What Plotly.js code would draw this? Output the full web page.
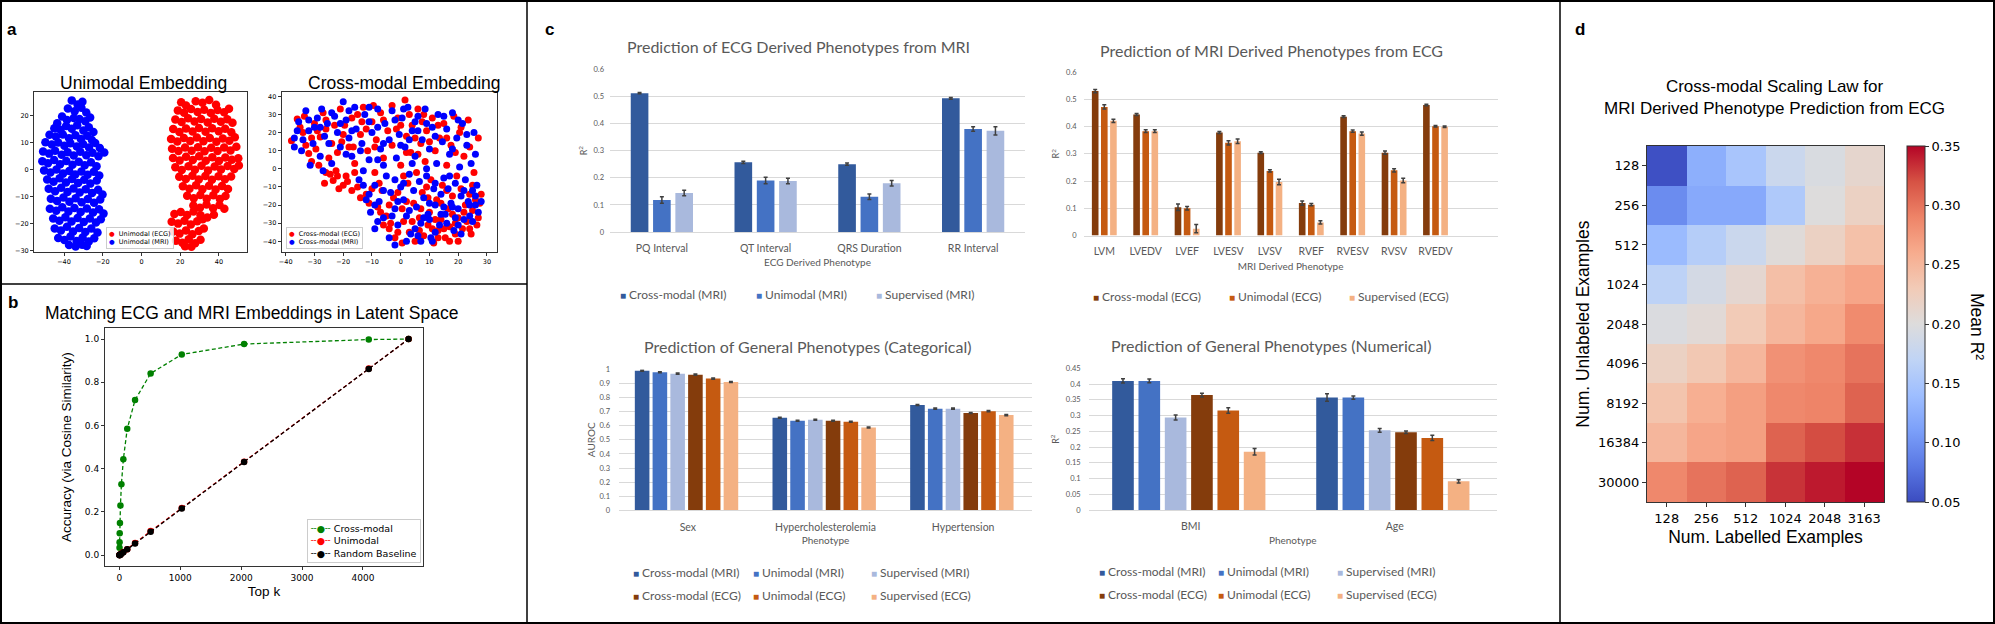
<!DOCTYPE html>
<html><head><meta charset="utf-8">
<script src="https://cdn.plot.ly/plotly-3.0.1.min.js"></script>
<style>html,body{margin:0;padding:0;background:#fff}#fig{width:1995px;height:624px}</style>
</head><body><div id="fig"></div><script>
// ---------------- DATA ----------------
// Panel a: t-SNE embeddings (approximate positions)
const uniMriPts = [[-36,25.5],[-33,24],[-30.5,25],[-38,22.5],[-34.5,21.5],[-31,22.8],[-28.5,21],
[-41,19.5],[-38.5,18.2],[-35,19],[-32,18.6],[-29,17.8],[-26.5,19.2],[-43.5,17],
[-45,15.2],[-41.8,14.6],[-38.9,16],[-36,15],[-33.2,16.3],[-30,14.4],[-27.2,15.6],[-24.8,13.8],
[-47.5,12.8],[-44.2,12.1],[-40.6,12.9],[-37.4,11.5],[-34.1,12.6],[-31.3,11.2],[-28,12.4],[-25.6,10.8],
[-49.6,10],[-46.3,9.2],[-43,9.9],[-39.8,8.7],[-36.7,9.6],[-33.4,8.4],[-30.2,9.4],[-27.1,8.1],[-23.9,9.7],[-21.5,7.9],
[-50.8,6.6],[-47.7,5.8],[-44.6,6.9],[-41.2,5.4],[-38.1,6.3],[-35,5.1],[-31.6,6.5],[-28.5,5.2],[-25.3,6.1],[-22.2,4.8],[-19.2,6.2],
[-51.2,3],[-48.3,2.2],[-45.1,3.4],[-42,1.9],[-38.8,3.1],[-35.6,1.7],[-32.4,2.8],[-29.3,1.5],[-26.1,2.6],[-23.2,1.1],
[-50.3,-0.4],[-47,-1.2],[-43.9,-0.1],[-40.5,-1.6],[-37.3,-0.6],[-34.2,-1.9],[-31,-0.8],[-27.8,-2],[-24.6,-0.9],[-21.8,-2.3],
[-48.7,-3.8],[-45.4,-4.6],[-42.3,-3.3],[-39,-4.9],[-35.9,-3.6],[-32.7,-5.1],[-29.6,-3.9],[-26.4,-5.3],[-23.1,-4.1],
[-47.9,-7.2],[-44.6,-8.1],[-41.5,-6.8],[-38.2,-8.4],[-35.1,-7.1],[-31.9,-8.6],[-28.8,-7.4],[-25.5,-8.8],[-22.4,-7.6],[-20.1,-9.3],
[-46.8,-10.9],[-43.6,-11.7],[-40.3,-10.4],[-37.2,-12],[-34,-10.7],[-30.9,-12.2],[-27.7,-11],[-24.5,-12.4],[-21.3,-11.2],
[-47.3,-14.6],[-44,-15.3],[-40.9,-14],[-37.7,-15.6],[-34.6,-14.3],[-31.4,-15.8],[-28.2,-14.5],[-25,-16],[-21.9,-14.8],[-19.6,-16.4],
[-45.6,-18.2],[-42.4,-19],[-39.3,-17.7],[-36.1,-19.3],[-33,-18],[-29.8,-19.5],[-26.7,-18.2],[-23.5,-19.7],[-21,-18.5],
[-44.8,-21.9],[-41.6,-22.6],[-38.5,-21.3],[-35.3,-23],[-32.2,-21.7],[-29,-23.2],[-25.9,-21.9],[-22.7,-23.4],
[-43,-25.4],[-39.8,-26.2],[-36.7,-24.9],[-33.5,-26.5],[-30.4,-25.2],[-27.2,-26.7],[-24.4,-25.5],
[-37.4,-28],[-34,-28.6],[-30.6,-27.9],[-28.3,-28.4]];

const uniEcgPts = [[20.5,24.8],[23,23.6],[28,25.2],[31.5,24.6],[35,25.6],[38.5,23.9],
[18.8,21.8],[22,20.9],[25.6,22.3],[29,21.2],[32.4,22],[35.8,20.8],[39.3,21.9],[42.7,21.1],[45.2,22.4],
[17.5,18.4],[20.7,17.5],[24.1,18.9],[27.4,17.7],[30.8,18.6],[34.2,17.3],[37.6,18.7],[41,17.6],[44.3,18.5],[47,17.2],
[16.4,14.9],[19.6,13.8],[23,15.1],[26.4,14],[29.7,15.3],[33.1,13.9],[36.5,15.2],[39.9,14.1],[43.2,15],[46.4,13.7],
[15.3,11.2],[18.5,10.3],[21.9,11.6],[25.2,10.5],[28.6,11.8],[32,10.4],[35.3,11.6],[38.7,10.2],[42,11.4],[45.4,10.6],[48.2,11.9],
[15.8,7.6],[19.1,6.8],[22.5,8.1],[25.9,6.9],[29.2,8.2],[32.6,6.7],[36,8],[39.3,6.8],[42.7,8.1],[46,7],[49,8.3],
[16.3,4.2],[19.7,3.3],[23,4.6],[26.5,3.4],[29.8,4.8],[33.2,3.2],[36.6,4.5],[40,3.1],[43.3,4.4],[46.7,3.5],[50,4.1],
[17.5,0.8],[20.8,-0.3],[24.3,1.1],[27.6,-0.2],[31,1.3],[34.4,-0.4],[37.8,1],[41.1,-0.1],[44.5,1.2],[47.9,0.1],[50.3,1.4],
[19.5,-2.8],[22.9,-3.6],[26.3,-2.4],[29.6,-3.8],[33,-2.5],[36.4,-3.9],[39.8,-2.6],[43.1,-3.7],[46.3,-2.7],
[21.4,-6.3],[24.8,-7.2],[28.2,-5.9],[31.5,-7.4],[34.9,-6.1],[38.3,-7.5],[41.6,-6.2],[44.7,-7.3],
[23.6,-9.8],[27,-10.7],[30.4,-9.5],[33.7,-10.9],[37.1,-9.6],[40.5,-11],[43.4,-9.9],
[26.8,-13.4],[30.2,-14.2],[33.6,-13],[37,-14.4],[40.3,-13.2],[42.8,-14.6],
[30.5,-17],[34,-17.8],[37.4,-16.8],
[17,-16.5],[20.3,-15.8],[23.6,-16.9],[26.9,-15.6],[15.6,-19.4],[18.9,-20.1],[22.2,-19],[25.5,-20.4],[28.8,-19.2],[31.6,-18.5],
[16.4,-23],[19.7,-23.8],[23,-22.6],[26.3,-24],[29.6,-22.8],[32.2,-21.9],[17.8,-26.4],[21.1,-27.2],[24.4,-25.9],[27.7,-27.4],[30.5,-26.1],[22.5,-28.5],[25.8,-28.7]];

const crossEcgPts = [[-38,15.5],[-36,27.5],[-34,20],[-33,13],[-32,8.5],[-31,4],[-30,25],[-29.5,11],[-28,17.5],[-27,31],
[-26,22],[-25,6],[-24.5,-3],[-23.5,-6.5],[-22.5,-1],[-22,9],[-21,33],[-20.5,15],[-19.5,24],[-18.5,-7],
[-17,28],[-16,3],[-15,-10],[-14,19],[-13,34],[-12,-14],[-11.5,10],[-11,-19],[-10,26],[-9,-2],
[-8.5,16],[-8,-21],[-7,31],[-6.5,-12],[-6,6],[-5,-26],[-4.5,21],[-4,-33],[-3,13],[-2.5,-16],
[-2,-38],[-1,28],[0,2],[0.5,-22],[1,-29],[1.5,38],[2,18],[2.5,-8],[3,-35],[3.5,9],
[4,24],[4.5,-19],[5,-40],[5.5,-2],[6,33],[6.5,-27],[7,14],[7.5,-13],[8,-37],[8.5,4],
[9,21],[9.5,-31],[10,-24],[10.5,-6],[11,28],[11.5,-41],[12,10],[12.5,-17],[13,-34],[13.5,17],
[14,-28],[14.5,-9],[15,25],[15.5,-38],[16,2],[16.5,-22],[17,-32],[17.5,13],[18,-15],[18.5,29],
[19,-36],[19.5,-4],[20,-27],[20.5,20],[21,-11],[21.5,-33],[22,7],[22.5,-20],[23,-29],[23.5,27],
[24,-14],[24.5,-36],[25,-23],[25.5,-2],[26,-17],[26.5,-31],[27,17],[27.5,-19],[28,-14],[-19,-4],
[-26.5,-8],[-21.5,-11],[-28.5,2],[-33.5,29],[-24,14],[-16.5,12],[-13.5,26],[-9.5,35],[-7.5,-8],[-3.5,-30],
[0.5,-41],[6.5,-34],[9.5,-16],[12,-28],[15,-33],[18,-25],[20,-40],[3,30],[-1.5,22],[7.5,26],
[-35,23],[-31,17],[-29,21],[-26,27],[-23,24],[-20,19],[-18,12],[-15,30],[-12,22],[-9,12],
[-6,27],[-3,35],[0,24],[2,9],[5,17],[8,30],[10,15],[13,24],[16,17],[19,9],
[21,23],[24,12],[-22,-4],[-26,-2],[-20,-9],[-17,-12],[-14,-16],[-10,-11],[-7,-24],[-4,-20],
[-1,-13],[2,-18],[4,-29],[7,-22],[9,-10],[11,-33],[14,-19],[16,-12],[19,-30],[22,-24],
[25,-9],[27,-27],[24,-33],[17,-40],[13,-38],[-1,-35],[-6,-31],[1,-4],[6,8],[-16,-2]];

const crossMriPts = [[-37,17],[-35.5,26],[-34.5,10],[-33,32],[-32,21],[-31.5,2],[-30.5,14],[-29,28],[-28,7],[-27.5,33],
[-26.5,18],[-25.5,25],[-24,3],[-23,29],[-22,20],[-21,12],[-20,37],[-19,27],[-18,17],[-17,7],
[-16,34],[-15.5,22],[-14.5,-6],[-13.5,14],[-12.5,30],[-12,-17],[-11,5],[-10.5,-24],[-10,20],[-9,-9],
[-8,33],[-7.5,-18],[-7,11],[-6,-27],[-5.5,25],[-5,-4],[-4,16],[-3.5,-13],[-3,32],[-2,-22],
[-1.5,6],[-1,-31],[-0.5,19],[0,-10],[0.5,28],[1,-17],[1.5,12],[2,-26],[2.5,34],[3,-3],
[3.5,-36],[4,21],[4.5,-12],[5,7],[5.5,-21],[6,29],[6.5,-7],[7,-30],[7.5,16],[8,-16],
[8.5,33],[9,-4],[9.5,-25],[10,11],[10.5,-38],[11,23],[11.5,-11],[12,-20],[12.5,3],[13,30],
[13.5,-31],[14,-14],[14.5,15],[15,-5],[15.5,-25],[16,22],[16.5,-11],[17,8],[17.5,-19],[18,31],
[18.5,-34],[19,-8],[19.5,17],[20,-22],[20.5,1],[21,-15],[21.5,25],[22,-28],[22.5,-6],[23,13],
[23.5,-18],[24,-26],[24.5,3],[25,-12],[25.5,20],[26,-20],[26.5,-9],[27,-24],[25,-29],[21,-36],
[-9,-33],[-8,-29],[-4,-38],[2,-40],[7,-40],[12,-35],[16,-30],[-27,-1],[-30,23],[-36,21],
[-18,32],[-11,26],[-6,2],[0,13],[5,26],[10,-28],[15,-21],[19,-27],[-13,-1],[-2,-6],
[-37,12],[-34,16],[-32,27],[-28,23],[-25,14],[-24,31],[-21,25],[-19,8],[-17,21],[-14,10],
[-11,34],[-8,23],[-6,14],[-2,27],[1,33],[3,16],[6,21],[9,25],[12,18],[15,29],
[18,11],[20,27],[23,19],[26,8],[-13,-9],[-11,-14],[-9,-20],[-6,-12],[-3,-26],[-1,-18],
[1,-8],[3,-23],[5,-33],[8,-27],[10,-19],[12,-8],[14,-25],[17,-4],[18,-21],[20,-31],
[22,-12],[24,-20],[26,-15],[28,-18],[11,-40],[6,-37],[-2,-42],[9,0],[4,3],[-8,5]];

// Panel b: matching accuracy vs top k
const topK = [1,2,4,8,16,32,64,128,256,512,1024,2048,4096,4750];
const accCross = [0.034,0.06,0.102,0.149,0.23,0.328,0.444,0.585,0.718,0.841,0.929,0.977,0.998,1.0];
const accUni = [0.0004,0.0006,0.001,0.002,0.004,0.008,0.015,0.028,0.057,0.112,0.218,0.433,0.864,1.0];
const accRandom = [0.0002,0.0004,0.0008,0.0017,0.0034,0.0067,0.0135,0.027,0.054,0.108,0.216,0.431,0.862,1.0];

// Panel c1: ECG derived phenotypes from MRI (R2)
const ecgPhen = ['PQ Interval','QT Interval','QRS Duration','RR Interval'];
const c1Cross = [0.512,0.257,0.25,0.493], c1CrossErr = [0.002,0.004,0.004,0.003];
const c1Uni = [0.118,0.19,0.13,0.38], c1UniErr = [0.012,0.012,0.01,0.008];
const c1Sup = [0.144,0.188,0.18,0.373], c1SupErr = [0.01,0.01,0.01,0.015];

// Panel c2: MRI derived phenotypes from ECG (R2)
const mriPhen = ['LVM','LVEDV','LVEF','LVESV','LVSV','RVEF','RVESV','RVSV','RVEDV'];
const c2Cross = [0.53,0.444,0.104,0.378,0.304,0.119,0.436,0.304,0.479];
const c2CrossErr = [0.006,0.004,0.012,0.004,0.003,0.008,0.003,0.006,0.003];
const c2Uni = [0.472,0.383,0.1,0.34,0.237,0.113,0.383,0.239,0.401];
const c2UniErr = [0.008,0.005,0.006,0.008,0.004,0.004,0.004,0.006,0.003];
const c2Sup = [0.421,0.383,0.025,0.346,0.196,0.048,0.374,0.202,0.399];
const c2SupErr = [0.006,0.005,0.015,0.008,0.01,0.006,0.006,0.008,0.003];

// Panel c3: general phenotypes, categorical (AUROC)
const catPhen = ['Sex','Hypercholesterolemia','Hypertension'];
const c3CrossMri = [0.99,0.656,0.747], c3UniMri = [0.979,0.635,0.721], c3SupMri = [0.969,0.642,0.721];
const c3CrossEcg = [0.962,0.635,0.69], c3UniEcg = [0.934,0.628,0.703], c3SupEcg = [0.91,0.587,0.675];
const c3Err = [0.004,0.004,0.004];

// Panel c4: general phenotypes, numerical (R2)
const numPhen = ['BMI','Age'];
const c4CrossMri = [0.41,0.357], c4CrossMriErr = [0.007,0.012];
const c4UniMri = [0.41,0.357], c4UniMriErr = [0.006,0.005];
const c4SupMri = [0.294,0.253], c4SupMriErr = [0.008,0.006];
const c4CrossEcg = [0.365,0.247], c4CrossEcgErr = [0.006,0.004];
const c4UniEcg = [0.316,0.229], c4UniEcgErr = [0.009,0.008];
const c4SupEcg = [0.185,0.091], c4SupEcgErr = [0.01,0.005];

// Panel d: scaling law heatmap (mean R2)
const labelled = ['128','256','512','1024','2048','3163'];
const unlabeled = ['128','256','512','1024','2048','4096','8192','16384','30000'];
const meanR2 = [
 [0.053,0.125,0.15,0.18,0.195,0.212],
 [0.095,0.12,0.12,0.155,0.2,0.22],
 [0.137,0.16,0.18,0.203,0.22,0.24],
 [0.167,0.19,0.21,0.242,0.255,0.265],
 [0.197,0.205,0.23,0.25,0.263,0.285],
 [0.22,0.233,0.25,0.28,0.287,0.3],
 [0.237,0.257,0.27,0.287,0.29,0.31],
 [0.25,0.265,0.27,0.31,0.322,0.333],
 [0.287,0.3,0.31,0.332,0.342,0.35]];
const cbTicks = [0.05,0.10,0.15,0.20,0.25,0.30,0.35];

// ---------------- STYLE ----------------
const W = 1995, H = 624;
const px = x => x / W, py = y => 1 - y / H;
const dX = (a, b) => [a / W, b / W];
const dY = (t, b) => [1 - b / H, 1 - t / H];
const ARIAL = 'Liberation Sans, Arial, sans-serif';
const DEJAVU = 'DejaVu Sans, sans-serif';
const LATO = 'Lato, Calibri, sans-serif';
const GREY = '#595959';
const C_MRI = ['#325A9C', '#4472C4', '#A9B9DD'];
const C_ECG = ['#843C0C', '#C55A11', '#F4B183'];

const xs = p => p.map(v => v[0]), ys = p => p.map(v => v[1]);

function mplAxis(domain, range, dtick, anchor, fs, extra) {
  return Object.assign({domain, range, dtick, anchor, showline: true, mirror: true, linecolor: '#333', linewidth: 1,
    ticks: 'outside', ticklen: 3, tickwidth: 1, tickcolor: '#333', showgrid: false, zeroline: false,
    tickfont: {family: DEJAVU, size: fs, color: '#000'}}, extra || {});
}
function xlX(domain, anchor, range, tlStand, title, tStand, tfs) {
  return {domain, anchor, type: 'category', range, showline: true, linecolor: '#D9D9D9', linewidth: 1, ticks: '',
    showgrid: false, zeroline: false, tickfont: {family: LATO, size: tfs, color: GREY}, ticklabelstandoff: tlStand,
    title: {text: title, font: {family: LATO, size: 10, color: GREY}, standoff: tStand}};
}
function xlY(domain, anchor, range, dtick, tlStand, title, tStand, titleSize) {
  return {domain, anchor, range, dtick, showgrid: true, gridcolor: '#D9D9D9', gridwidth: 1, showline: false, zeroline: false,
    ticks: '', tickfont: {family: LATO, size: 7.5, color: GREY}, ticklabelstandoff: tlStand,
    title: {text: title, font: {family: LATO, size: titleSize, color: GREY}, standoff: tStand}};
}
function bars(cats, vals, errs, name, color, xa, ya, offset, width) {
  return {type: 'bar', name, x: cats, y: vals, xaxis: xa, yaxis: ya, offset, width, showlegend: false,
    marker: {color, line: {width: 0}},
    error_y: {type: 'data', array: errs, visible: true, color: '#404040', thickness: 1.5, width: 2}};
}
function sc(pts, color, xa, ya, name, size) {
  return {type: 'scatter', mode: 'markers', x: xs(pts), y: ys(pts), xaxis: xa, yaxis: ya, name, showlegend: false,
    marker: {color, size, line: {width: 0}}};
}
function ann(x, y, text, font, opts) {
  return Object.assign({xref: 'paper', yref: 'paper', x: px(x), y: py(y), text, showarrow: false, font,
    xanchor: 'center', yanchor: 'middle'}, opts || {});
}
const sq = c => `<span style="color:${c};font-size:10px">■</span>`;

// ---------------- TRACES ----------------
const traces = [];
// a
traces.push(sc(uniEcgPts, '#FF0000', 'x', 'y', 'Unimodal (ECG)', 8.5));
traces.push(sc(uniMriPts, '#0000FF', 'x', 'y', 'Unimodal (MRI)', 8.5));
traces.push(sc(crossEcgPts, '#FF0000', 'x2', 'y2', 'Cross-modal (ECG)', 7));
traces.push(sc(crossMriPts, '#0000FF', 'x2', 'y2', 'Cross-modal (MRI)', 7));
// b
const dashLine = (y, c, n) => ({type: 'scatter', mode: 'lines+markers', x: topK, y, xaxis: 'x3', yaxis: 'y3', name: n,
  showlegend: false, line: {color: c, width: 1.3, dash: '4px,2.5px'}, marker: {color: c, size: 6.5}});
traces.push(dashLine(accCross, '#008000', 'Cross-modal'));
traces.push(dashLine(accUni, '#FF0000', 'Unimodal'));
traces.push(dashLine(accRandom, '#000000', 'Random Baseline'));
// c1
const w1 = 0.17;
traces.push(bars(ecgPhen, c1Cross, c1CrossErr, 'Cross-modal (MRI)', C_MRI[0], 'x4', 'y4', -0.3, w1));
traces.push(bars(ecgPhen, c1Uni, c1UniErr, 'Unimodal (MRI)', C_MRI[1], 'x4', 'y4', -0.085, w1));
traces.push(bars(ecgPhen, c1Sup, c1SupErr, 'Supervised (MRI)', C_MRI[2], 'x4', 'y4', 0.13, w1));
// c2
const w2 = 0.16;
traces.push(bars(mriPhen, c2Cross, c2CrossErr, 'Cross-modal (ECG)', C_ECG[0], 'x5', 'y5', -0.3, w2));
traces.push(bars(mriPhen, c2Uni, c2UniErr, 'Unimodal (ECG)', C_ECG[1], 'x5', 'y5', -0.08, w2));
traces.push(bars(mriPhen, c2Sup, c2SupErr, 'Supervised (ECG)', C_ECG[2], 'x5', 'y5', 0.14, w2));
// c3 & c4
const w3 = 0.106, step3 = 0.129, off3 = -0.385;
const names6 = ['Cross-modal (MRI)','Unimodal (MRI)','Supervised (MRI)','Cross-modal (ECG)','Unimodal (ECG)','Supervised (ECG)'];
const cols6 = C_MRI.concat(C_ECG);
[c3CrossMri, c3UniMri, c3SupMri, c3CrossEcg, c3UniEcg, c3SupEcg].forEach((v, k) =>
  traces.push(bars(catPhen, v, c3Err, names6[k], cols6[k], 'x6', 'y6', off3 + k * step3, w3)));
const c4Vals = [c4CrossMri, c4UniMri, c4SupMri, c4CrossEcg, c4UniEcg, c4SupEcg];
const c4Errs = [c4CrossMriErr, c4UniMriErr, c4SupMriErr, c4CrossEcgErr, c4UniEcgErr, c4SupEcgErr];
c4Vals.forEach((v, k) =>
  traces.push(bars(numPhen, v, c4Errs[k], names6[k], cols6[k], 'x7', 'y7', off3 + k * step3, w3)));
// d
const coolwarm = [[0,'#3b4cc0'],[0.1,'#5a78e4'],[0.2,'#7b9ff9'],[0.3,'#9ebeff'],[0.4,'#c0d4f5'],[0.5,'#dddcdc'],
  [0.6,'#f2cbb7'],[0.7,'#f7ac8e'],[0.8,'#ee8468'],[0.9,'#d65244'],[1,'#b40426']];
traces.push({type: 'heatmap', x: labelled, y: unlabeled, z: meanR2, xaxis: 'x8', yaxis: 'y8', name: 'Mean R²',
  colorscale: coolwarm, zmin: 0.05, zmax: 0.35, showscale: true,
  colorbar: {x: px(1907.3), xanchor: 'left', xpad: 0, ypad: 0, y: 1 - 324.1 / H, yanchor: 'middle', len: 356.2 / H, lenmode: 'fraction',
    thickness: 18, thicknessmode: 'pixels', outlinewidth: 1, outlinecolor: '#333', ticks: 'outside', ticklen: 4,
    tickcolor: '#333', tickvals: cbTicks, ticktext: cbTicks.map(v => v.toFixed(2)),
    tickfont: {family: DEJAVU, size: 13, color: '#000'}}});

// ---------------- LAYOUT ----------------
const layout = {
  width: W, height: H, margin: {l: 0, r: 0, t: 0, b: 0}, paper_bgcolor: '#fff', plot_bgcolor: '#fff',
  showlegend: false, barmode: 'overlay',
  xaxis: mplAxis(dX(34, 247), [-55.5, 54.5], 20, 'y', 6.5),
  yaxis: mplAxis(dY(92, 252), [-30.6, 28.6], 10, 'x', 6.5),
  xaxis2: mplAxis(dX(281.7, 496.7), [-41.4, 33.4], 10, 'y2', 6.5),
  yaxis2: mplAxis(dY(92, 252), [-45.9, 42.4], 10, 'x2', 6.5),
  xaxis3: mplAxis(dX(105, 423), [-237.5, 4987.5], 1000, 'y3', 9,
    {title: {text: 'Top k', font: {family: ARIAL, size: 13.5, color: '#000'}, standoff: 4}}),
  yaxis3: mplAxis(dY(328.3, 566), [-0.05, 1.05], 0.2, 'x3', 9,
    {tickformat: '.1f', title: {text: 'Accuracy (via Cosine Similarity)', font: {family: ARIAL, size: 13.5, color: '#000'}, standoff: 10}}),
  xaxis4: xlX(dX(610, 1025), 'y4', [-0.5, 3.5], 6, 'ECG Derived Phenotype', 6, 10.5),
  yaxis4: xlY(dY(69.3, 232), 'x4', [0, 0.6], 0.1, 5, 'R<sup>2</sup>', 4, 9),
  xaxis5: xlX(dX(1083.6, 1497.6), 'y5', [-0.5, 9.5], 6, 'MRI Derived Phenotype', 6, 10.5),
  yaxis5: xlY(dY(72, 235.5), 'x5', [0, 0.6], 0.1, 6, 'R<sup>2</sup>', 4, 9),
  xaxis6: xlX(dX(619, 1032), 'y6', [-0.5, 2.5], 7, 'Phenotype', 5, 10.5),
  yaxis6: xlY(dY(369.3, 510.3), 'x6', [0, 1], 0.1, 8, 'AUROC', 2, 10),
  xaxis7: xlX(dX(1088.7, 1496.8), 'y7', [-0.5, 1.5], 6, 'Phenotype', 6, 10.5),
  yaxis7: xlY(dY(368.3, 510), 'x7', [0, 0.45], 0.05, 7, 'R<sup>2</sup>', 4, 9),
  xaxis8: {domain: dX(1647, 1884), anchor: 'y8', type: 'category', showline: true, mirror: true, linecolor: '#333',
    ticks: 'outside', ticklen: 4, tickcolor: '#333', showgrid: false, zeroline: false,
    tickfont: {family: DEJAVU, size: 13, color: '#000'},
    title: {text: 'Num. Labelled Examples', font: {family: ARIAL, size: 17.5, color: '#000'}, standoff: 5}},
  yaxis8: {domain: dY(146, 502.2), anchor: 'x8', type: 'category', autorange: 'reversed', showline: true, mirror: true,
    linecolor: '#333', ticks: 'outside', ticklen: 4, tickcolor: '#333', showgrid: false, zeroline: false,
    tickfont: {family: DEJAVU, size: 13, color: '#000'},
    title: {text: 'Num. Unlabeled Examples', font: {family: ARIAL, size: 17.5, color: '#000'}, standoff: 3}},
  shapes: [
    {type: 'rect', xref: 'paper', yref: 'paper', x0: px(1), x1: px(1994), y0: py(623), y1: py(1), line: {color: '#000', width: 2}},
    {type: 'line', xref: 'paper', yref: 'paper', x0: px(527), x1: px(527), y0: 0, y1: 1, line: {color: '#000', width: 1.5}},
    {type: 'line', xref: 'paper', yref: 'paper', x0: px(1560), x1: px(1560), y0: 0, y1: 1, line: {color: '#000', width: 1.5}},
    {type: 'line', xref: 'paper', yref: 'paper', x0: 0, x1: px(527), y0: py(284), y1: py(284), line: {color: '#000', width: 1.5}}
  ],
  annotations: []
};

const A = layout.annotations;
const bold = {family: ARIAL, size: 17, color: '#000', weight: 'bold'};
A.push(ann(12, 29, '<b>a</b>', bold));
A.push(ann(13, 302, '<b>b</b>', bold));
A.push(ann(549, 29, '<b>c</b>', bold));
A.push(ann(1580, 29, '<b>d</b>', bold));
// panel a titles + legends
A.push(ann(143, 83, 'Unimodal Embedding', {family: ARIAL, size: 17.5, color: '#000'}));
A.push(ann(404, 83, 'Cross-modal Embedding', {family: ARIAL, size: 17.5, color: '#000'}));
const dot = c => `<span style="color:${c}">●</span>`;
const legA = {family: DEJAVU, size: 6.5, color: '#000'};
A.push(ann(140, 238.5, dot('#FF0000') + '\u00a0\u00a0Unimodal (ECG)<br>' + dot('#0000FF') + '\u00a0\u00a0Unimodal (MRI)', legA,
  {align: 'left', bordercolor: '#ccc', borderwidth: 1, borderpad: 2, bgcolor: 'rgba(255,255,255,0.85)'}));
A.push(ann(324, 238.5, dot('#FF0000') + '\u00a0\u00a0Cross-modal (ECG)<br>' + dot('#0000FF') + '\u00a0\u00a0Cross-modal (MRI)', legA,
  {align: 'left', bordercolor: '#ccc', borderwidth: 1, borderpad: 2, bgcolor: 'rgba(255,255,255,0.85)'}));
// panel b title + legend
A.push(ann(251, 313, 'Matching ECG and MRI Embeddings in Latent Space', {family: ARIAL, size: 17.5, color: '#000'}));
const dl = c => `<span style="color:${c}">╌●╌</span>`;
A.push(ann(363.5, 540.5, dl('#008000') + '\u00a0Cross-modal<br>' + dl('#FF0000') + '\u00a0Unimodal<br>' + dl('#000000') + '\u00a0Random Baseline',
  {family: DEJAVU, size: 9.5, color: '#000'}, {align: 'left', bordercolor: '#ccc', borderwidth: 1, borderpad: 3, bgcolor: 'rgba(255,255,255,0.85)'}));
// panel c titles
const tF = {family: LATO, size: 16, color: GREY};
A.push(ann(798, 46.7, 'Prediction of ECG Derived Phenotypes from MRI', tF));
A.push(ann(1271, 50, 'Prediction of MRI Derived Phenotypes from ECG', tF));
A.push(ann(807, 346.7, 'Prediction of General Phenotypes (Categorical)', tF));
A.push(ann(1271, 345, 'Prediction of General Phenotypes (Numerical)', tF));
// panel c legends
const lF = {family: LATO, size: 12, color: GREY};
const legRow = (xsPos, y, names, cols) => names.forEach((n, i) => A.push(ann(xsPos[i], y, sq(cols[i]) + ' ' + n, lF, {xanchor: 'left'})));
legRow([618, 754, 874], 294, names6.slice(0, 3), C_MRI);
legRow([1091, 1227, 1347], 296.7, names6.slice(3), C_ECG);
legRow([631, 751, 869], 572.7, names6.slice(0, 3), C_MRI);
legRow([631, 751, 869], 595.3, names6.slice(3), C_ECG);
legRow([1096.5, 1215.5, 1335], 571.7, names6.slice(0, 3), C_MRI);
legRow([1096.5, 1215.5, 1335], 594.3, names6.slice(3), C_ECG);
// panel d title + colorbar label (reads top-to-bottom)
A.push(ann(1774.7, 97, 'Cross-modal Scaling Law for<br>MRI Derived Phenotype Prediction from ECG', {family: ARIAL, size: 17, color: '#000'}));
A.push(ann(1977, 326, 'Mean R²', {family: ARIAL, size: 17.5, color: '#000'}, {textangle: 90}));

Plotly.newPlot('fig', traces, layout, {displayModeBar: false, staticPlot: true});
</script></body></html>
